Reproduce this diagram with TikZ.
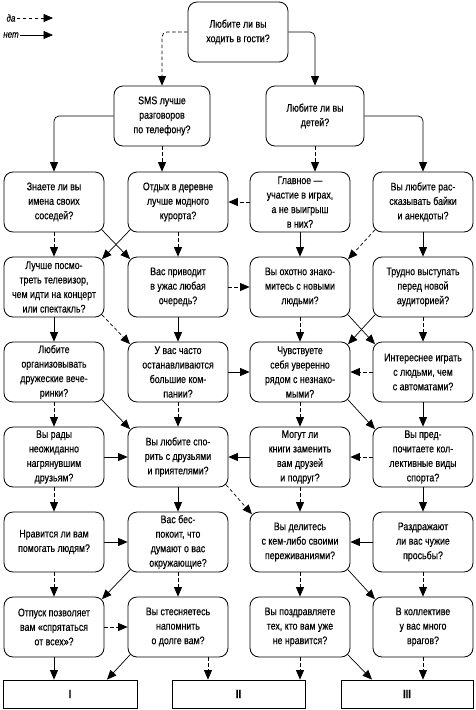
\documentclass[tikz,border=0pt]{standalone}
\usepackage{fontspec}
\setmainfont{Liberation Sans}[FakeStretch=0.8, FakeBold=0.3]
\usetikzlibrary{arrows.meta}
\tikzset{
    question/.style={draw, line width=0.8pt, rounded corners=9pt, minimum width=100pt,
        minimum height=60pt, inner sep=0pt, align=center, font={\fontsize{11}{14.5}\selectfont}},
    result/.style={draw, line width=0.8pt, minimum height=28pt, inner sep=0pt, font=\large\bfseries},
    yes arrow/.style={line width=0.7pt, dash pattern=on 3.5pt off 2.5pt, -{Triangle[length=9.5pt,width=8pt]}},
    no arrow/.style={line width=0.7pt, -{Triangle[length=9.5pt,width=8pt]}},
    diagonal/.style={shorten <=-3.5pt, shorten >=-3.5pt},
    elbow/.style={rounded corners=5pt}
}
\begin{document}
\begin{tikzpicture}[x=1pt, y=-1pt]
    \useasboundingbox (0,0) rectangle (475,710);
    % legend
    \node[font=\itshape, inner sep=1pt] (yeslabel) at (11,18) {да};
    \node[font=\itshape, inner sep=1pt] (nolabel) at (11,35) {нет};
    \coordinate (yesend) at (53,18);
    \coordinate (noend) at (53,35);
    \draw[yes arrow] (yeslabel.east) -- (yesend);
    \draw[no arrow] (nolabel.east) -- (noend);
    % top
    \node[question] (guests) at (238,32) {Любите ли вы\\ходить в гости?};
    \node[question, minimum width=96pt] (sms) at (162,116) {SMS лучше\\разговоров\\по телефону?};
    \node[question, minimum width=98pt] (kids) at (315,116) {Любите ли вы\\детей?};
    % row 2
    \node[question] (neighbours) at (54,202) {Знаете ли вы\\имена своих\\соседей?};
    \node[question] (village) at (178,202) {Отдых в деревне\\лучше модного\\курорта?};
    \node[question] (games) at (300,202) {Главное —\\участие в играх,\\а не выигрыш\\в них?};
    \node[question] (jokes) at (423,202) {Вы любите рас-\\сказывать байки\\и анекдоты?};
    % row 3
    \node[question] (tv) at (54,287) {Лучше посмо-\\треть телевизор,\\чем идти на концерт\\или спектакль?};
    \node[question] (queue) at (178,287) {Вас приводит\\в ужас любая\\очередь?};
    \node[question] (meet) at (300,287) {Вы охотно знако-\\митесь с новыми\\людьми?};
    \node[question] (speech) at (423,287) {Трудно выступать\\перед новой\\аудиторией?};
    % row 4
    \node[question] (party) at (54,372) {Любите\\организовывать\\дружеские вече-\\ринки?};
    \node[question] (company) at (178,372) {У вас часто\\останавливаются\\большие ком-\\пании?};
    \node[question] (confident) at (300,372) {Чувствуете\\себя уверенно\\рядом с незнако-\\мыми?};
    \node[question] (machines) at (423,372) {Интереснее играть\\с людьми, чем\\с автоматами?};
    % row 5
    \node[question] (surprise) at (54,457) {Вы рады\\неожиданно\\нагрянувшим\\друзьям?};
    \node[question] (argue) at (178,457) {Вы любите спо-\\рить с друзьями\\и приятелями?};
    \node[question] (books) at (300,457) {Могут ли\\книги заменить\\вам друзей\\и подруг?};
    \node[question] (sport) at (423,457) {Вы пред-\\почитаете кол-\\лективные виды\\спорта?};
    % row 6
    \node[question] (help) at (54,542) {Нравится ли вам\\помогать людям?};
    \node[question] (opinion) at (178,542) {Вас бес-\\покоит, что\\думают о вас\\окружающие?};
    \node[question] (share) at (300,542) {Вы делитесь\\с кем-либо своими\\переживаниями?};
    \node[question] (requests) at (423,542) {Раздражают\\ли вас чужие\\просьбы?};
    % row 7
    \node[question] (vacation) at (54,627) {Отпуск позволяет\\вам «спрятаться\\от всех»?};
    \node[question] (debt) at (178,627) {Вы стесняетесь\\напомнить\\о долге вам?};
    \node[question] (congrats) at (300,627) {Вы поздравляете\\тех, кто вам уже\\не нравится?};
    \node[question] (enemies) at (423,627) {В коллективе\\у вас много\\врагов?};
    % results
    \node[result, minimum width=134pt] (resI) at (70,694) {I};
    \node[result, minimum width=133pt] (resII) at (238.5,694) {II};
    \node[result, minimum width=132pt] (resIII) at (407,694) {III};
    % top arrows
    \draw[yes arrow, elbow] (guests.west) -| (sms.north);
    \draw[no arrow, elbow] (guests.east) -| (kids.north);
    \draw[no arrow, elbow] (sms.west) -| (neighbours.north);
    \draw[yes arrow] (sms.south) -- (sms.south |- village.north);
    \draw[no arrow, elbow] (kids.east) -| (jokes.north);
    \draw[yes arrow] (kids.south) -- (kids.south |- games.north);
    % row 2
    \draw[yes arrow] (neighbours.south) -- (tv.north);
    \draw[no arrow, diagonal] (neighbours.south east) -- (queue.north west);
    \draw[no arrow, diagonal] (village.south west) -- (tv.north east);
    \draw[yes arrow] (village.south) -- (queue.north);
    \draw[yes arrow] (games.west) -- (village.east);
    \draw[no arrow] (games.south) -- (meet.north);
    \draw[yes arrow, diagonal] (jokes.south west) -- (meet.north east);
    \draw[no arrow] (jokes.south) -- (speech.north);
    % row 3
    \draw[no arrow] (tv.south) -- (party.north);
    \draw[yes arrow, diagonal] (tv.south east) -- (company.north west);
    \draw[yes arrow] (queue.east) -- (meet.west);
    \draw[no arrow] (queue.south) -- (company.north);
    \draw[yes arrow] (meet.south) -- (confident.north);
    \draw[no arrow, diagonal] (meet.south east) -- (machines.north west);
    \draw[no arrow, diagonal] (speech.south west) -- (confident.north east);
    \draw[yes arrow] (speech.south) -- (machines.north);
    % row 4
    \draw[yes arrow] (party.south) -- (surprise.north);
    \draw[no arrow, diagonal] (party.south east) -- (argue.north west);
    \draw[no arrow] (company.east) -- (confident.west);
    \draw[yes arrow] (company.south) -- (argue.north);
    \draw[yes arrow] (confident.south) -- (books.north);
    \draw[no arrow, diagonal] (confident.south east) -- (sport.north west);
    \draw[yes arrow] (machines.west) -- (confident.east);
    \draw[no arrow] (machines.south) -- (sport.north);
    % row 5
    \draw[no arrow] (surprise.east) -- (argue.west);
    \draw[yes arrow] (surprise.south) -- (help.north);
    \draw[no arrow] (argue.south) -- (opinion.north);
    \draw[yes arrow, diagonal] (argue.south east) -- (share.north west);
    \draw[no arrow] (books.west) -- (argue.east);
    \draw[yes arrow] (books.south) -- (share.north);
    \draw[yes arrow] (sport.west) -- (books.east);
    \draw[no arrow] (sport.south) -- (requests.north);
    % row 6
    \draw[no arrow] (help.east) -- (opinion.west);
    \draw[yes arrow] (help.south) -- (vacation.north);
    \draw[no arrow, diagonal] (opinion.south west) -- (vacation.north east);
    \draw[yes arrow] (opinion.south) -- (debt.north);
    \draw[yes arrow] (share.south) -- (congrats.north);
    \draw[no arrow, diagonal] (share.south east) -- (enemies.north west);
    \draw[no arrow] (requests.west) -- (share.east);
    \draw[yes arrow] (requests.south) -- (enemies.north);
    % row 7 to results
    \coordinate (debtout) at ([xshift=30pt]debt.south);
    \draw[yes arrow] (vacation.east) -- (debt.west);
    \draw[no arrow] (vacation.south) -- (vacation.south |- resI.north);
    \draw[no arrow, shorten <=-3.5pt] (debt.south west) -- ([xshift=37pt]resI.north);
    \draw[yes arrow] (debtout) -- (debtout |- resII.north);
    \draw[yes arrow] (congrats.south) -- (congrats.south |- resII.north);
    \draw[no arrow, shorten <=-3.5pt] (congrats.south east) -- ([xshift=-35pt]resIII.north);
    \draw[yes arrow] (enemies.south) -- (enemies.south |- resIII.north);
\end{tikzpicture}
\end{document}
